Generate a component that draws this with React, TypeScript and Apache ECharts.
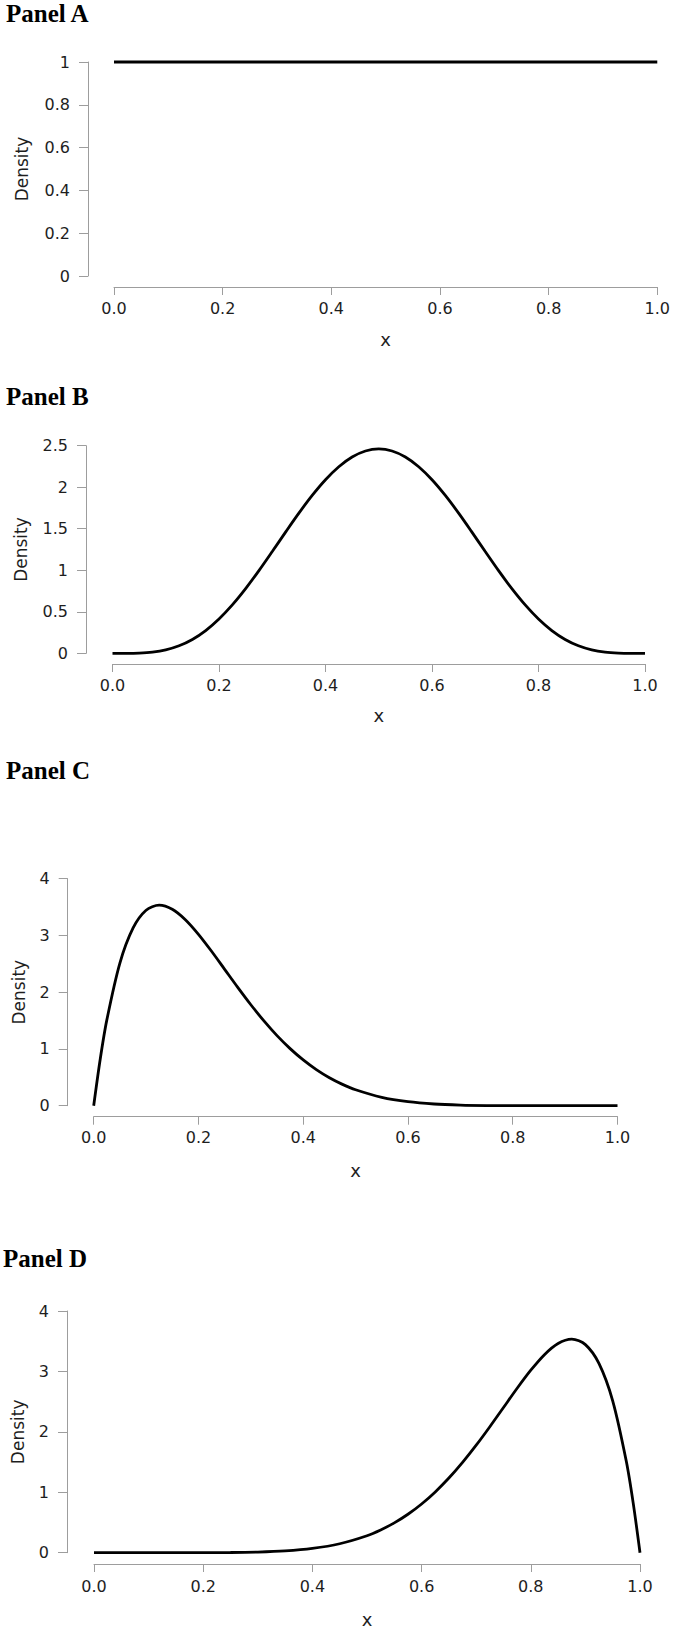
import React, { useEffect, useRef } from "react";
import * as echarts from "echarts";

// ---- data ----
const panelTitles = ["Panel A", "Panel B", "Panel C", "Panel D"];
const xTickLabels = ["0.0", "0.2", "0.4", "0.6", "0.8", "1.0"];

const xA = [0, 1];
const densA = [1, 1];

const xB = [
  0, 0.025, 0.05, 0.075, 0.1, 0.125, 0.15, 0.175, 0.2, 0.225, 0.25, 0.275, 0.3, 0.325, 0.35, 0.375, 0.4, 0.425, 0.45, 0.475,
  0.5, 0.525, 0.55, 0.575, 0.6, 0.625, 0.65, 0.675, 0.7, 0.725, 0.75, 0.775, 0.8, 0.825, 0.85, 0.875, 0.9, 0.925, 0.95, 0.975, 1,
];
const densB = [
  0, 0.0002, 0.0032, 0.0146, 0.0413, 0.0902, 0.1665, 0.2737, 0.4129, 0.5825, 0.7787, 0.9955, 1.2252, 1.4591, 1.6876, 1.901, 2.0902, 2.2468, 2.3639, 2.4364,
  2.4609, 2.4364, 2.3639, 2.2468, 2.0902, 1.901, 1.6876, 1.4591, 1.2252, 0.9955, 0.7787, 0.5825, 0.4129, 0.2737, 0.1665, 0.0902, 0.0413, 0.0146, 0.0032, 0.0002, 0,
];

const xC = [
  0, 0.0125, 0.025, 0.05, 0.075, 0.1, 0.125, 0.15, 0.175, 0.2, 0.225, 0.25, 0.275, 0.3, 0.325, 0.35, 0.375, 0.4, 0.425, 0.45,
  0.475, 0.5, 0.55, 0.6, 0.65, 0.7, 0.75, 0.8, 0.85, 0.9, 0.95, 1,
];
const densC = [
  0, 0.824, 1.508, 2.514, 3.129, 3.444, 3.534, 3.462, 3.278, 3.02, 2.721, 2.403, 2.085, 1.779, 1.494, 1.235, 1.006, 0.806, 0.636, 0.493,
  0.376, 0.281, 0.148, 0.071, 0.03, 0.011, 0.003, 0.001, 0.0001, 0, 0, 0,
];

const xD = [
  0, 0.05, 0.1, 0.15, 0.2, 0.25, 0.3, 0.35, 0.4, 0.45, 0.5, 0.525, 0.55, 0.575, 0.6, 0.625, 0.65, 0.675, 0.7, 0.725,
  0.75, 0.775, 0.8, 0.825, 0.85, 0.875, 0.9, 0.925, 0.95, 0.975, 0.9875, 1,
];
const densD = [
  0, 0, 0, 0.0001, 0.001, 0.003, 0.011, 0.03, 0.071, 0.148, 0.281, 0.376, 0.493, 0.636, 0.806, 1.006, 1.235, 1.494, 1.779, 2.085,
  2.403, 2.721, 3.02, 3.278, 3.462, 3.534, 3.444, 3.129, 2.514, 1.508, 0.824, 0,
];

const yMaxes = [1, 2.5, 4, 4];
const yIntervals = [0.2, 0.5, 1, 1];
const seriesX = [xA, xB, xC, xD];
const seriesY = [densA, densB, densC, densD];

// ---- layout (pixels) ----
const layouts = [
  { left: 114, width: 544, top: 62, height: 214, yOff: 26, xOff: 11, yGap: 58, xGap: 43, xMargin: 13, tx: 6, ty: 13 },
  { left: 112.5, width: 532.5, top: 445.7, height: 207.6, yOff: 26.5, xOff: 10.7, yGap: 57, xGap: 42, xMargin: 13, tx: 6, ty: 396 },
  { left: 93.7, width: 523.8, top: 878.7, height: 227, yOff: 26, xOff: 11, yGap: 40, xGap: 45, xMargin: 13, tx: 6, ty: 770 },
  { left: 94, width: 546, top: 1311, height: 241.7, yOff: 27, xOff: 11.3, yGap: 41, xGap: 46, xMargin: 14, tx: 3, ty: 1258 },
];

const AXIS_COLOR = "#9d9d9d";
const TEXT_COLOR = "#1e1e1e";
const SANS = '"DejaVu Sans", "Liberation Sans", Arial, sans-serif';
const SERIF = '"Liberation Serif", "Times New Roman", serif';

export default function App() {
  const ref = useRef<HTMLDivElement>(null);

  useEffect(() => {
    if (!ref.current) return;
    const chart = echarts.init(ref.current, undefined, { renderer: "svg" });

    const grid = layouts.map((l) => ({ left: l.left, width: l.width, top: l.top, height: l.height, containLabel: false }));

    const xAxis = layouts.map((l, i) => ({
      type: "value",
      gridIndex: i,
      min: 0,
      max: 1,
      interval: 0.2,
      position: "bottom",
      offset: l.xOff,
      splitLine: { show: false },
      axisLine: { show: true, onZero: false, lineStyle: { color: AXIS_COLOR, width: 1 } },
      axisTick: { show: true, length: 8, lineStyle: { color: AXIS_COLOR, width: 1 } },
      axisLabel: {
        margin: l.xMargin,
        color: TEXT_COLOR,
        fontSize: 16,
        fontFamily: SANS,
        formatter: (v: number) => xTickLabels[Math.round(v * 5)] ?? v.toFixed(1),
      },
      name: "x",
      nameLocation: "middle",
      nameGap: l.xGap,
      nameTextStyle: { color: TEXT_COLOR, fontSize: 18, fontFamily: SANS },
    }));

    const yAxis = layouts.map((l, i) => ({
      type: "value",
      gridIndex: i,
      min: 0,
      max: yMaxes[i],
      interval: yIntervals[i],
      position: "left",
      offset: l.yOff,
      splitLine: { show: false },
      axisLine: { show: true, onZero: false, lineStyle: { color: AXIS_COLOR, width: 1 } },
      axisTick: { show: true, length: 9, lineStyle: { color: AXIS_COLOR, width: 1 } },
      axisLabel: { margin: 18, color: TEXT_COLOR, fontSize: 16, fontFamily: SANS },
      name: "Density",
      nameLocation: "middle",
      nameGap: l.yGap,
      nameRotate: 90,
      nameTextStyle: { color: TEXT_COLOR, fontSize: 17, fontFamily: SANS },
    }));

    const series = seriesX.map((xs, i) => ({
      type: "line",
      xAxisIndex: i,
      yAxisIndex: i,
      data: xs.map((x, j) => [x, seriesY[i][j]]),
      showSymbol: false,
      symbol: "none",
      smooth: i === 0 ? false : 0.3,
      clip: false,
      lineStyle: { color: "#000", width: 2.8 },
    }));

    const graphic = layouts.map((l, i) => ({
      type: "text",
      x: l.tx,
      y: l.ty,
      style: {
        text: panelTitles[i],
        fontSize: 25,
        fontWeight: "bold",
        fontFamily: SERIF,
        fill: "#000",
        align: "left",
        verticalAlign: "middle",
      },
    }));

    chart.setOption({
      animation: false,
      backgroundColor: "#ffffff",
      grid,
      xAxis,
      yAxis,
      series,
      graphic,
    });

    return () => chart.dispose();
  }, []);

  return (
    <div
      ref={ref}
      style={{ position: "absolute", left: 0, top: 0, width: 673, height: 1632, background: "#fff" }}
    />
  );
}
